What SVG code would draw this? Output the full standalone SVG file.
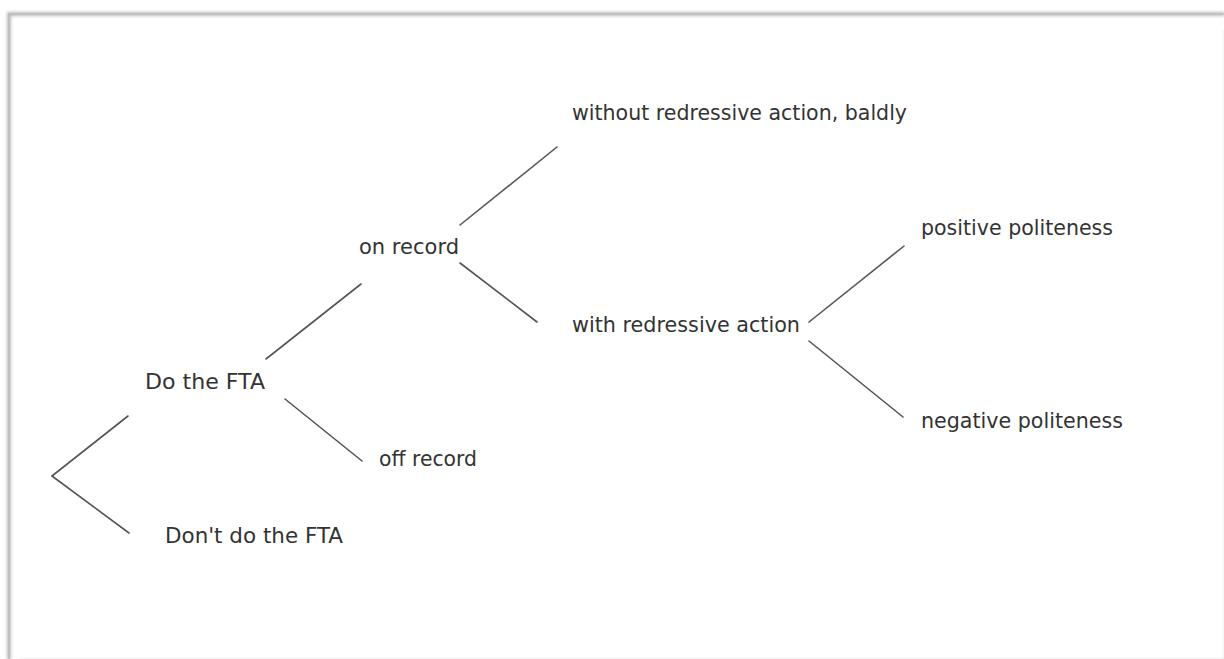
<svg xmlns="http://www.w3.org/2000/svg" width="1224" height="659" viewBox="0 0 1224 659">
<style>
.lbl{font-family:"DejaVu Sans","Liberation Sans",sans-serif;font-size:20.5px;fill:#333333}
.conn line{stroke:#555555;stroke-width:1.6;stroke-linecap:round}
.frame{stroke:#bdbdbd;fill:none}
</style>
<defs>
<filter id="sh" x="-5%" y="-5%" width="110%" height="110%"><feGaussianBlur stdDeviation="1.5"/></filter>
</defs>
<rect width="1224" height="659" fill="#ffffff"/>
<g id="frame">
<path d="M9,659 V14 H1224" class="frame" stroke-width="4" stroke="#e0e0e0" filter="url(#sh)"/>
<path d="M9,659 V14 H1224" class="frame" stroke-width="1.5"/>
<line x1="1223" y1="30" x2="1223" y2="659" stroke="#efefef" stroke-width="1"/>
<line x1="20" y1="658" x2="1224" y2="658" stroke="#f0f0f0" stroke-width="1"/>
</g>
<g id="connectors" class="conn">
<line x1="128" y1="416" x2="52" y2="476"/>
<line x1="52" y1="476" x2="129" y2="533"/>
<line x1="266" y1="359" x2="361" y2="284"/>
<line x1="285" y1="399" x2="362" y2="461"/>
<line x1="460" y1="225" x2="557" y2="147"/>
<line x1="460" y1="263" x2="537" y2="322"/>
<line x1="809" y1="322" x2="904" y2="246"/>
<line x1="809" y1="341" x2="903" y2="417"/>
</g>
<g id="n-do"><text class="lbl" x="145" y="389" textLength="120" lengthAdjust="spacingAndGlyphs">Do the FTA</text></g>
<g id="n-dont"><text class="lbl" x="165" y="543" textLength="178" lengthAdjust="spacingAndGlyphs">Don't do the FTA</text></g>
<g id="n-on"><text class="lbl" x="359" y="254" textLength="100" lengthAdjust="spacingAndGlyphs">on record</text></g>
<g id="n-off"><text class="lbl" x="379" y="466" textLength="98" lengthAdjust="spacingAndGlyphs">off record</text></g>
<g id="n-without"><text class="lbl" x="572" y="120" textLength="335" lengthAdjust="spacingAndGlyphs">without redressive action, baldly</text></g>
<g id="n-with"><text class="lbl" x="572" y="332" textLength="228" lengthAdjust="spacingAndGlyphs">with redressive action</text></g>
<g id="n-pos"><text class="lbl" x="921" y="235" textLength="192" lengthAdjust="spacingAndGlyphs">positive politeness</text></g>
<g id="n-neg"><text class="lbl" x="921" y="428" textLength="202" lengthAdjust="spacingAndGlyphs">negative politeness</text></g>
</svg>
